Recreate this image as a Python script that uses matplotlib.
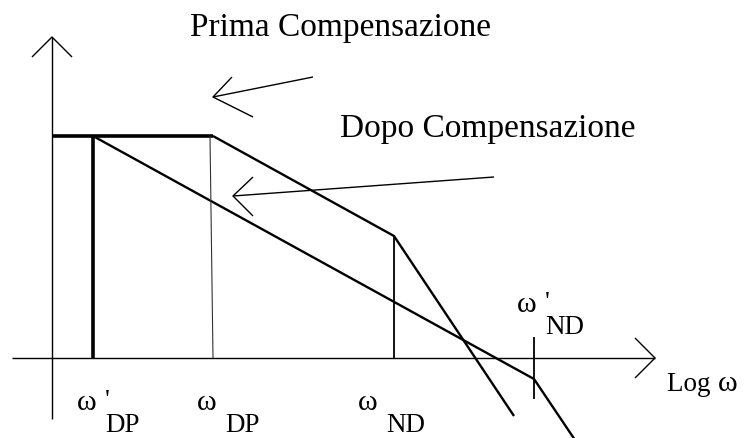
"""Asymptotic Bode magnitude sketch: pole-splitting compensation.

Shows the open-loop gain before compensation (dominant pole at w_DP,
non-dominant pole at w_ND) and after it (poles moved to w'_DP and w'_ND).
"""

import matplotlib

matplotlib.use("Agg")
import matplotlib.pyplot as plt  # noqa: E402

plt.rcParams["font.family"] = ["Liberation Serif", "DejaVu Serif"]

# break frequencies on the log-omega axis (arbitrary decade units)
W_DP_PRIME = 0.41
W_DP = 1.61
W_ND = 3.42
W_ND_PRIME = 4.82

# low-frequency gain (same before and after compensation)
GAIN_DC = 2.22

# asymptotes before compensation ("Prima Compensazione")
prima_x = [0.0, W_DP, W_ND, 4.62]
prima_y = [GAIN_DC, GAIN_DC, 1.22, -0.58]

# asymptotes after compensation ("Dopo Compensazione")
dopo_x = [0.0, W_DP_PRIME, W_ND_PRIME, 5.23]
dopo_y = [GAIN_DC, GAIN_DC, -0.21, -0.82]

TEXT_BIG = 24
TEXT_SMALL = 19.5
TEXT_OMEGA = 21.5

fig = plt.figure(figsize=(7.44, 4.38), dpi=100)
ax = fig.add_axes([0, 0, 1, 1])
ax.set_xlim(-0.52, 6.92)
ax.set_ylim(-0.80, 3.58)
ax.axis("off")

k = dict(color="black", solid_capstyle="butt")

# axes with open arrow heads
ax.plot([-0.40, 6.03], [0, 0], lw=1.0, **k)
ax.plot([5.83, 6.03, 5.83], [0.20, 0, -0.20], lw=1.0, **k)
ax.plot([0, 0], [-0.61, 3.21], lw=1.0, **k)
ax.plot([-0.20, 0, 0.20], [3.01, 3.21, 3.01], lw=1.0, **k)

# gain curves
ax.plot(prima_x[1:], prima_y[1:], lw=1.7, **k)
ax.plot(dopo_x[1:], dopo_y[1:], lw=1.7, **k)
ax.plot(prima_x[:2], prima_y[:2], lw=2.6, **k)

# drop lines from the break points
ax.plot([W_DP_PRIME, W_DP_PRIME], [0, GAIN_DC], lw=2.6, **k)
ax.plot([W_DP - 0.03, W_DP], [GAIN_DC, 0], lw=0.8, color="#333333")
ax.plot([W_ND, W_ND], [0, prima_y[2]], lw=1.3, **k)
ax.plot([W_ND_PRIME, W_ND_PRIME], [0.21, -0.41], lw=1.3, **k)


def freq_label(x, y, name, prime):
    """omega with its subscript set low and to the right; the prime
    sits on its own line right above the subscript."""
    ax.text(x, y, "ω", fontsize=TEXT_OMEGA, va="baseline", ha="left")
    sub = ("'\n" if prime else "") + name
    ax.text(x + 0.28, y - 0.28, sub, fontsize=TEXT_SMALL, va="bottom",
            ha="left", linespacing=0.95)


freq_label(W_DP_PRIME - 0.16, -0.52, "DP", True)
freq_label(W_DP - 0.16, -0.52, "DP", False)
freq_label(W_ND - 0.36, -0.52, "ND", False)
freq_label(W_ND_PRIME - 0.17, 0.46, "ND", True)

ax.text(6.15, -0.33, "Log ", fontsize=TEXT_SMALL, va="baseline", ha="left")
ax.text(6.66, -0.33, "ω", fontsize=TEXT_OMEGA, va="baseline", ha="left")

# captions and pointing arrows
ax.text(1.38, 3.22, "Prima Compensazione", fontsize=TEXT_BIG,
        va="baseline", ha="left")
ax.plot([2.61, 1.61], [2.81, 2.61], lw=1.0, **k)
ax.plot([1.80, 1.61, 2.01], [2.81, 2.61, 2.41], lw=1.0, **k)

ax.text(2.88, 2.21, "Dopo Compensazione", fontsize=TEXT_BIG,
        va="baseline", ha="left")
ax.plot([4.42, 1.81], [1.81, 1.62], lw=1.0, **k)
ax.plot([2.01, 1.81, 2.01], [1.81, 1.62, 1.42], lw=1.0, **k)

fig.savefig("out.png", dpi=100)
